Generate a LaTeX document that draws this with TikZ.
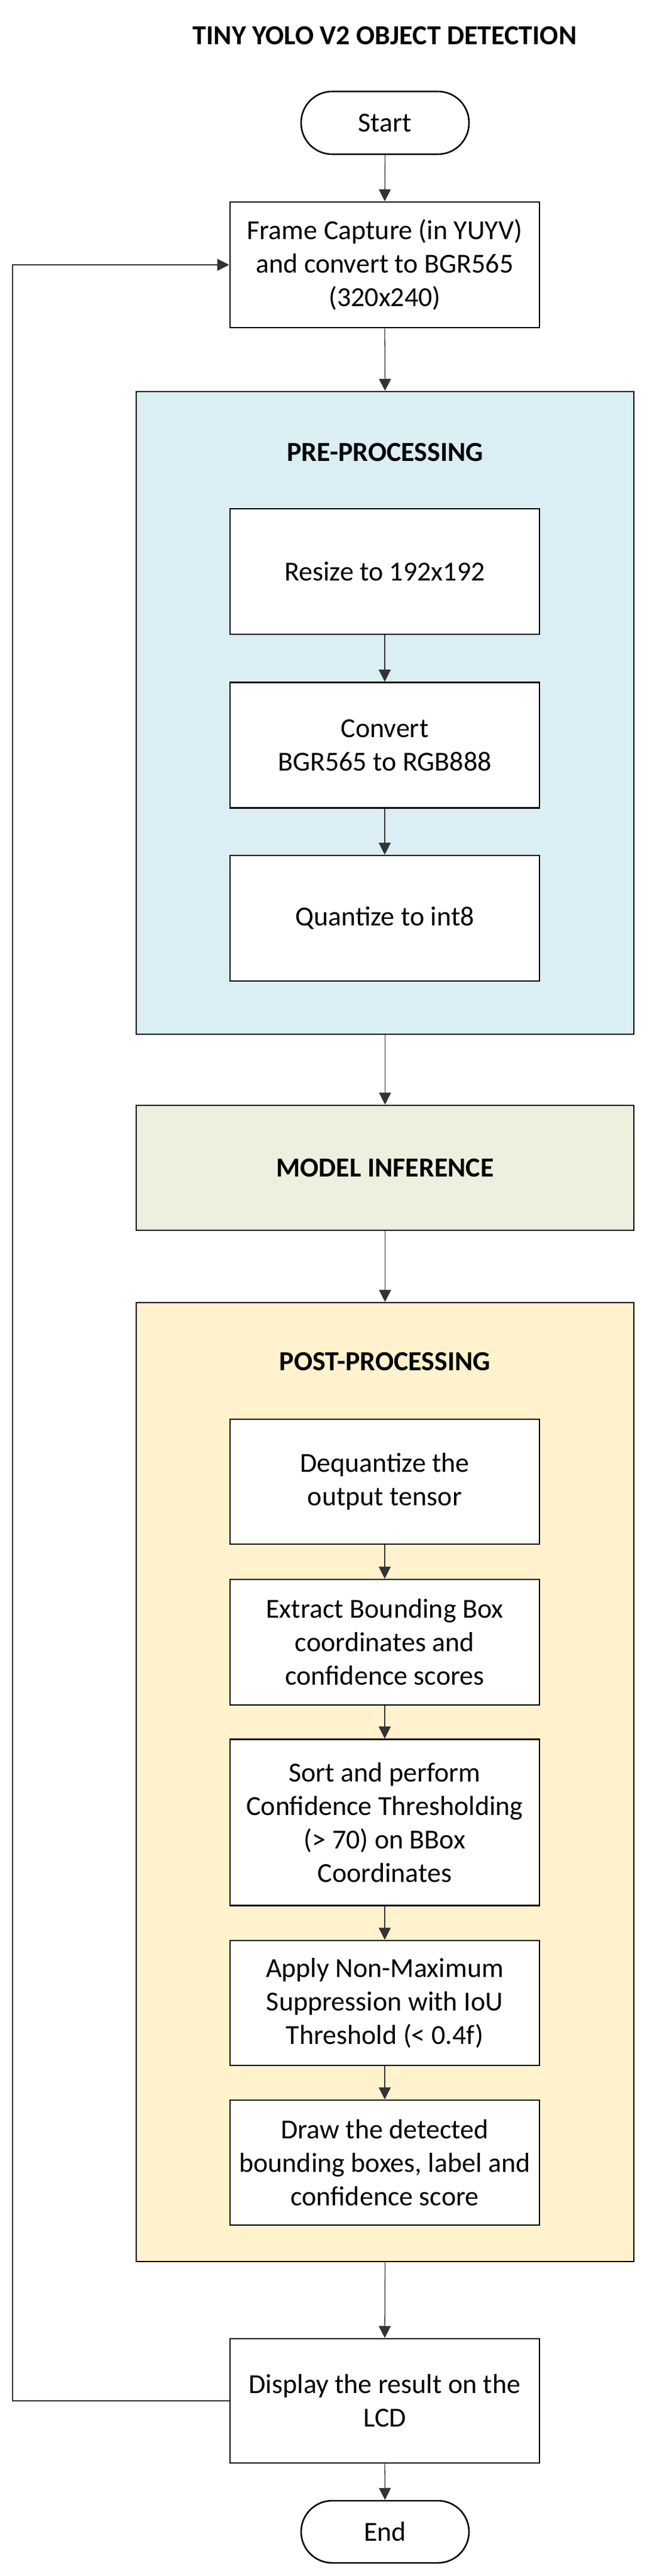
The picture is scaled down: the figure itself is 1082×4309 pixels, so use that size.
\documentclass[tikz,border=0pt]{standalone}
\usepackage{fontspec}
\setmainfont{Carlito}
\usetikzlibrary{arrows.meta}
\definecolor{preblue}{HTML}{DAEEF3}
\definecolor{modgreen}{HTML}{EBF1DE}
\definecolor{postgold}{HTML}{FFF2CC}
\tikzset{
  txt/.style={font=\fontsize{46}{56}\selectfont, align=center},
  stepbox/.style={txt, draw=black, line width=2.6pt, fill=white, rectangle,
    minimum width=518pt, inner sep=0pt},
  groupbox/.style={draw=black, line width=2.6pt, rectangle,
    minimum width=833pt, inner sep=0pt},
  termbox/.style={txt, draw=black, line width=2.6pt, fill=white,
    rounded corners=52pt, minimum width=281pt, inner sep=0pt},
  grptitle/.style={font=\fontsize{46}{56}\selectfont\bfseries},
  conn/.style={draw=black!80, line width=1.3pt, -{Triangle[width=20pt,length=20pt]}}
}
\begin{document}
\begin{tikzpicture}[x=1pt,y=-1pt]
\useasboundingbox (0,0) rectangle (1082,4309);
% title
\node[grptitle] (title) at (644,60) {TINY YOLO V2 OBJECT DETECTION};
% terminals and steps
\node[termbox, minimum height=105pt] (start) at (644.5,205.5) {Start};
\node[stepbox, minimum height=210pt] (frame) at (644,443) {Frame Capture (in YUYV)\\and convert to BGR565\\(320x240)};
% pre-processing group
\node[groupbox, fill=preblue, minimum height=1075pt] (pre) at (644.5,1192.5) {};
\node[grptitle] (pretitle) at (644.5,757) {PRE-PROCESSING};
\node[stepbox, minimum height=210pt] (resize) at (644,956) {Resize to 192x192};
\node[stepbox, minimum height=210pt] (convert) at (644,1246.5) {Convert\\BGR565 to RGB888};
\node[stepbox, minimum height=210pt] (quant) at (644,1536) {Quantize to int8};
% model inference
\node[groupbox, fill=modgreen, minimum height=209pt, grptitle] (model) at (644.5,1953.5) {MODEL INFERENCE};
% post-processing group
\node[groupbox, fill=postgold, minimum height=1604pt] (post) at (644.5,2981) {};
\node[grptitle] (posttitle) at (644.5,2278) {POST-PROCESSING};
\node[stepbox, minimum height=209pt] (deq) at (644,2478.5) {Dequantize the\\output tensor};
\node[stepbox, minimum height=210pt] (extract) at (644,2747) {Extract Bounding Box\\coordinates and\\confidence scores};
\node[stepbox, minimum height=278pt] (sort) at (644,3048.5) {Sort and perform\\Confidence Thresholding\\(> 70) on BBox\\Coordinates};
\node[stepbox, minimum height=209pt] (apply) at (644,3350.5) {Apply Non-Maximum\\Suppression with IoU\\Threshold (< 0.4f)};
\node[stepbox, minimum height=209pt] (drawbb) at (644,3617.5) {Draw the detected\\bounding boxes, label and\\confidence score};
% output
\node[stepbox, minimum height=208pt] (display) at (644,4016) {Display the result on the\\LCD};
\node[termbox, minimum height=104pt] (end) at (644.5,4235) {End};
% connectors
\draw[conn] (start.south) -- (frame.north);
\draw[conn] (frame.south) -- (pre.north);
\draw[conn] (resize.south) -- (convert.north);
\draw[conn] (convert.south) -- (quant.north);
\draw[conn] (pre.south) -- (model.north);
\draw[conn] (model.south) -- (post.north);
\draw[conn] (deq.south) -- (extract.north);
\draw[conn] (extract.south) -- (sort.north);
\draw[conn] (sort.south) -- (apply.north);
\draw[conn] (apply.south) -- (drawbb.north);
\draw[conn] (post.south) -- (display.north);
\draw[conn] (display.south) -- (end.north);
% loop back
\coordinate (loopb) at (21,4016);
\coordinate (loopt) at (21,443);
\draw[conn] (display.west) -- (loopb) -- (loopt) -- (frame.west);
\end{tikzpicture}
\end{document}
